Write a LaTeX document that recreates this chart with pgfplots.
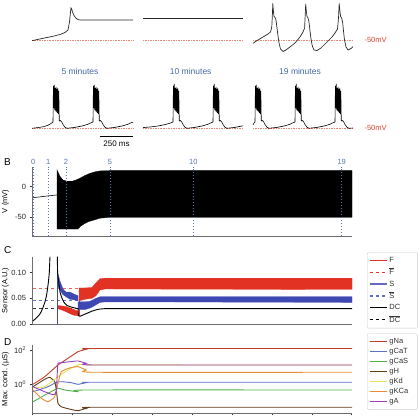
\documentclass[border=0pt]{standalone}
\usepackage{pgfplots}
\pgfplotsset{compat=1.18}
\usepackage{fontspec}
\setmainfont{Liberation Sans}
\definecolor{trace}{RGB}{40,40,40}
\definecolor{refred}{RGB}{238,135,120}
\definecolor{mvred}{RGB}{214,72,52}
\definecolor{titleblue}{RGB}{70,105,165}
\definecolor{dotblue}{RGB}{85,120,180}
\definecolor{Fred}{RGB}{226,50,36}
\definecolor{Sblue}{RGB}{62,72,178}
\definecolor{axgray}{RGB}{110,110,110}
\definecolor{cNa}{RGB}{192,62,45}
\definecolor{cCaT}{RGB}{92,112,200}
\definecolor{cCaS}{RGB}{78,176,72}
\definecolor{cH}{RGB}{96,60,26}
\definecolor{cKd}{RGB}{232,226,85}
\definecolor{cKCa}{RGB}{236,140,52}
\definecolor{cA}{RGB}{152,62,190}
\newcommand{\legtxt}[1]{\makebox[24pt][l]{\rule[-1.8pt]{0pt}{7.4pt}#1}}
\pgfplotsset{
  panel/.style={scale only axis, anchor=south west, xmin=32, xmax=352,
    axis x line*=bottom, axis y line*=left,
    axis line style={-, draw=axgray, line width=0.6pt},
    tick align=outside, major tick length=2.5pt, minor tick length=0pt,
    tick style={draw=black!80, line width=0.5pt},
    tick label style={font=\fontsize{7.5}{8}\selectfont, text=black!85},
    ylabel style={font=\fontsize{7.5}{8}\selectfont, at={(axis description cs:-0.083,0.5)}, anchor=center},
    legend style={draw=gray!40, rounded corners=1pt, font=\fontsize{7.5}{8}\selectfont, inner sep=2pt,
      anchor=north west, row sep=0pt, text=black!80},
    legend cell align=left,
    legend image post style={line width=1.1pt},
  }
}
\begin{document}
\begin{tikzpicture}
\useasboundingbox (0pt,0pt) rectangle (420pt,420pt);
% ---------------- Panel A ----------------
\begin{axis}[at={(0pt,270pt)},anchor=south west,scale only axis,width=420pt,height=150pt,
  xmin=0,xmax=420,ymin=0,ymax=150,y dir=reverse,hide axis,clip=false]
\addplot[refred, densely dotted, line width=0.65pt] coordinates {(32,40)(133,40)};
\addplot[refred, densely dotted, line width=0.65pt] coordinates {(143,40)(243,40)};
\addplot[refred, densely dotted, line width=0.65pt] coordinates {(253,40)(353,40)};
\addplot[refred, densely dotted, line width=0.65pt] coordinates {(32,128.3)(133,128.3)};
\addplot[refred, densely dotted, line width=0.65pt] coordinates {(143,128.3)(243,128.3)};
\addplot[refred, densely dotted, line width=0.65pt] coordinates {(253,128.3)(353,128.3)};
\addplot[trace, line width=0.7pt] coordinates {(32,40.7)(43,38.3)(52,36.5)(60,34.5)(65,32.5)(68,30)(69.5,22)(70.5,12)(71,8)(71.7,9)(72.5,12)(74,15.5)(76,18.3)(78,19.5)(80,20)(133,20)};
\addplot[trace, line width=0.7pt] coordinates {(143,18.3)(243,18.3)};
\addplot[trace, line width=0.7pt] coordinates {(253,43.3)(258,40)(263,37)(268,34)(270.5,32)(271.8,27)(272.4,14)(272.8,3.5)(273.3,10)(274,16.5)(275,17.5)(276,20)(277,28)(278,36)(279,43)(280.5,49)(283,51.5)(286,50)(290,47)(295,43)(300,37)(303,32)(304.6,28)(305.2,15)(305.7,4)(306.2,10)(307,16.5)(308,18)(309,22)(310,31)(311,39)(312.3,46)(314,50)(317,50.5)(321,48)(327,42)(332,37)(335,33)(337.5,29)(338.5,18)(339.2,3.5)(339.8,10)(340.6,16.5)(341.6,18)(342.6,22)(343.5,31)(344.5,40)(346,47)(348,50)(351,48.5)(353,46.7)};
% second row
\addplot[black, line width=0.6pt] coordinates {(32,128.3)(38,127.6)(44,126.6)(48,125.2)(51,123.5)
 (53,122)(53.4,86)(53.9,108)(54.3,85)(54.8,110)(55.2,88)(55.7,111)(56.1,87)(56.6,112)(57,89)(57.5,113)(57.9,88)(58.4,114)(58.8,91)(59.3,121)
 (60.3,120.5)(61.5,121.5)(63,124.5)(65,127.3)(67,128.3)(75,127.4)(83,125.8)(88,124.2)(91,122.8)
 (93,122)(93.4,86)(93.9,108)(94.3,85)(94.8,110)(95.2,88)(95.7,111)(96.1,87)(96.6,112)(97,89)(97.5,113)(97.9,88)(98.4,114)(98.8,91)(99.3,121)
 (100.3,120.5)(101.5,121.5)(103,124.5)(105,127.3)(107,128.3)(115,127.4)(123,125.8)(128,124.2)(131,122.8)(133,122.2)};
\addplot[black, line width=0.6pt] coordinates {(143,127.6)(150,127)(158,126)(165,124.6)(170,123.2)
 (173,122)(173.4,86)(173.9,108)(174.3,84)(174.8,110)(175.2,88)(175.7,111)(176.1,87)(176.6,112)(177,89)(177.5,113)(177.9,88)(178.4,114)(178.8,91)(179.3,121)
 (180.3,120.5)(181.5,121.5)(183,124.5)(185,127.3)(187,128.3)(195,127.4)(203,125.8)(208,124.2)(211,122.8)
 (213,122)(213.4,86)(213.9,108)(214.3,84)(214.8,110)(215.2,88)(215.7,111)(216.1,87)(216.6,112)(217,89)(217.5,113)(217.9,88)(218.4,114)(218.8,91)(219.3,121)
 (220.3,120.5)(221.5,121.5)(223,124.5)(225,127.3)(227,128.3)(235,127.4)(243,125.8)};
\addplot[black, line width=0.6pt] coordinates {(253,125)(254,123)
 (255,122)(255.4,86)(255.9,108)(256.3,85)(256.8,110)(257.2,88)(257.7,111)(258.1,87)(258.6,112)(259,89)(259.5,113)(259.9,88)(260.4,114)(260.8,91)(261.3,121)
 (262.3,120.5)(263.5,121.5)(265,124.5)(267,127.3)(269,128.3)(277,127.4)(285,125.8)(290,124.2)(293,122.8)
 (295,122)(295.4,86)(295.9,108)(296.3,84)(296.8,110)(297.2,88)(297.7,111)(298.1,87)(298.6,112)(299,89)(299.5,113)(299.9,88)(300.4,114)(300.8,91)(301.3,121)
 (302.3,120.5)(303.5,121.5)(305,124.5)(307,127.3)(309,128.3)(317,127.4)(325,125.8)(330,124.2)(333,122.8)
 (335,122)(335.4,86)(335.9,108)(336.3,84)(336.8,110)(337.2,88)(337.7,111)(338.1,87)(338.6,112)(339,89)(339.5,113)(339.9,88)(340.4,114)(340.8,91)(341.3,121)
 (342.3,120.5)(343.5,121.5)(345,124.5)(347,127.3)(349,128.3)(353,128)};
% scale bar
\addplot[black, line width=0.8pt] coordinates {(100,136.7)(133,136.7)};
\node[font=\fontsize{8}{9}\selectfont] at (axis cs:116.5,143.8) {250 ms};
\node[text=mvred, anchor=west, font=\fontsize{7.5}{9}\selectfont] at (axis cs:361,39.5) {-50mV};
\node[text=mvred, anchor=west, font=\fontsize{7.5}{9}\selectfont] at (axis cs:361,128) {-50mV};
\node[text=titleblue, font=\fontsize{8.5}{10}\selectfont] at (axis cs:80,71) {5 minutes};
\node[text=titleblue, font=\fontsize{8.5}{10}\selectfont] at (axis cs:190.7,71) {10 minutes};
\node[text=titleblue, font=\fontsize{8.5}{10}\selectfont] at (axis cs:300,71) {19 minutes};
\end{axis}
% ---------------- Panel B ----------------
\node[anchor=west, font=\fontsize{10}{11}\selectfont] at (0.5pt,257.7pt) {B};
\begin{axis}[panel, at={(32pt,184pt)}, width=320pt, height=69.3pt,
  ymin=-81.4, ymax=33, xtick=\empty, ytick={-50,0}, yticklabels={-50,0},
  ylabel={V (mV)}, clip=false]
\addplot[trace, line width=0.7pt] coordinates {(33,-18.2)(40,-16.8)(48,-15.2)(57,-13.7)};
\addplot[black, fill=black, line width=0.3pt] coordinates {(57,27.5)(58,24)(60,17)(63,11)(67,9)(72,9)(76,11)(80,14)(85,18.5)(90,22)(95,24.5)(100,26)(110,26.5)(352,26.5)
 (352,-50.5)(110,-50.5)(100,-52)(95,-54.5)(88,-58)(83,-62.5)(80,-66)(78,-70)(57,-70)} -- cycle;
\addplot[dotblue, dotted, line width=1pt] coordinates {(33.3,-81.4)(33.3,33)};
\addplot[dotblue, dotted, line width=1pt] coordinates {(48.3,-81.4)(48.3,33)};
\addplot[dotblue, dotted, line width=1pt] coordinates {(66,-81.4)(66,33)};
\addplot[dotblue, dotted, line width=1pt] coordinates {(110,-81.4)(110,33)};
\addplot[dotblue, dotted, line width=1pt] coordinates {(193.3,-81.4)(193.3,33)};
\addplot[dotblue, dotted, line width=1pt] coordinates {(341.7,-81.4)(341.7,33)};
\node[text=dotblue, font=\fontsize{7.5}{8}\selectfont] at (axis cs:33.3,40.3) {0};
\node[text=dotblue, font=\fontsize{7.5}{8}\selectfont] at (axis cs:48.3,40.3) {1};
\node[text=dotblue, font=\fontsize{7.5}{8}\selectfont] at (axis cs:66,40.3) {2};
\node[text=dotblue, font=\fontsize{7.5}{8}\selectfont] at (axis cs:110,40.3) {5};
\node[text=dotblue, font=\fontsize{7.5}{8}\selectfont] at (axis cs:193.3,40.3) {10};
\node[text=dotblue, font=\fontsize{7.5}{8}\selectfont] at (axis cs:341.7,40.3) {19};
\end{axis}
% ---------------- Panel C ----------------
\node[anchor=west, font=\fontsize{10}{11}\selectfont] at (0.5pt,170pt) {C};
\begin{axis}[panel, at={(32pt,96pt)}, width=320pt, height=67.3pt,
  ymin=0, ymax=0.1307, xtick=\empty, ytick={0,0.05,0.1}, yticklabels={0.00,0.05,0.10},
  ylabel={Sensor (A.U.)},
  legend style={at={(axis description cs:1.047,1.062)}}]
\addplot[forget plot, Fred!75!white, dashed, line width=0.8pt] coordinates {(33,0.07)(81,0.07)};
\addplot[forget plot, Sblue!75!white, dashed, line width=0.8pt] coordinates {(33,0.045)(80,0.045)};
\addplot[forget plot, black!80, dashed, line width=0.8pt] coordinates {(33,0.03)(79,0.03)};
% F
\addplot[forget plot, Fred, fill=Fred, line width=0.3pt] coordinates {(57.5,0.036)(62,0.035)(66,0.034)(70,0.031)(74,0.028)(78,0.025)(78,0.016)(74,0.017)(70,0.020)(66,0.024)(62,0.027)(57.5,0.030)} -- cycle;
\addplot[forget plot, Fred, fill=Fred, line width=0.3pt] coordinates {(79,0.070)(85,0.070)(92,0.071)(96,0.080)(100,0.088)(105,0.089)(352,0.089)(352,0.067)(105,0.068)(100,0.066)(96,0.055)(92,0.050)(85,0.048)(79,0.045)} -- cycle;
\addplot[forget plot, Fred, line width=0.8pt] coordinates {(79,0.016)(79,0.070)};
% S
\addplot[forget plot, Sblue, line width=0.8pt] coordinates {(33,0)(57.3,0)(57.3,0.10)};
\addplot[forget plot, Sblue, fill=Sblue, line width=0.3pt] coordinates {(57.5,0.10)(60,0.083)(63,0.068)(66,0.062)(70,0.062)(74,0.058)(78,0.055)(78,0.045)(74,0.047)(70,0.048)(66,0.053)(63,0.057)(60,0.066)(57.5,0.075)} -- cycle;
\addplot[forget plot, Sblue, fill=Sblue, line width=0.3pt] coordinates {(78,0.043)(85,0.043)(90,0.044)(95,0.049)(100,0.053)(106,0.053)(352,0.053)(352,0.042)(106,0.043)(100,0.042)(95,0.036)(90,0.031)(85,0.028)(78,0.028)} -- cycle;
% DC
\addplot[forget plot, black, line width=0.9pt] coordinates {(33,0.006)(36,0.011)(39,0.017)(41,0.023)(43,0.032)(45,0.043)(46.5,0.055)(47.5,0.068)(48.5,0.083)(49.3,0.10)(50,0.1307)};
\addplot[forget plot, black, line width=0.9pt] coordinates {(57.3,0.1307)(57.6,0.10)(58.3,0.088)(60,0.062)(62,0.050)(64,0.042)(67,0.036)(71,0.033)(75,0.031)(78,0.030)(78.5,0.016)(80,0.015)(86,0.020)(92,0.025)(97,0.028)(100,0.029)(106,0.030)(352,0.030)};
\addlegendimage{Fred}\addlegendentry{\legtxt{F}}
\addlegendimage{Fred, dashed}\addlegendentry{\legtxt{$\overline{\hbox{F}}$}}
\addlegendimage{Sblue!80!white}\addlegendentry{\legtxt{S}}
\addlegendimage{Sblue!80!white, dashed}\addlegendentry{\legtxt{$\overline{\hbox{S}}$}}
\addlegendimage{black}\addlegendentry{\legtxt{DC}}
\addlegendimage{black, dashed}\addlegendentry{\legtxt{$\overline{\hbox{DC}}$}}
\end{axis}
% ---------------- Panel D ----------------
\node[anchor=west, font=\fontsize{10}{11}\selectfont] at (0.5pt,78.3pt) {D};
\begin{axis}[panel, at={(32pt,7pt)}, width=320pt, height=68pt,
  ymode=log, ymin=0.0196, ymax=218, ytick={1,100}, yticklabels={10\textsuperscript{0},10\textsuperscript{2}},
  xtick={32.5,72.4,112.3,152.2,192.1,232,271.9,311.8,351.7}, xticklabels={},
  ylabel={Max. cond. (μS)},
  legend style={at={(axis description cs:1.047,1.169)}, row sep=-1pt}]
\addplot[cNa, line width=0.9pt, smooth, tension=0.3] coordinates {(33,1.0)(44.7,2.83)(58,14.1)(68,35.3)(78,87)(86.3,121)(94.7,135)(352,135)};
\addlegendentry{\legtxt{gNa}}
\addplot[cCaT, line width=0.9pt, smooth, tension=0.3] coordinates {(33,0.36)(48,0.72)(56.3,1.32)(61.3,1.43)(71.3,1.25)(78,1.0)(86.3,1.25)(94.7,1.32)(352,1.32)};
\addlegendentry{\legtxt{gCaT}}
\addplot[cCaS, line width=0.9pt, smooth, tension=0.3] coordinates {(33,0.092)(48,0.29)(58,0.578)(64.7,0.458)(78,0.363)(86.3,0.458)(352,0.458)};
\addlegendentry{\legtxt{gCaS}}
\addplot[cH, line width=0.9pt, smooth, tension=0.3] coordinates {(33,0.72)(44.7,1.98)(49.7,2.61)(54.7,1.43)(56.3,0.46)(58,0.074)(61.3,0.046)(70,0.033)(78,0.027)(86.3,0.037)(94.7,0.043)(352,0.043)};
\addlegendentry{\legtxt{gH}}
\addplot[cKd, line width=0.9pt, smooth, tension=0.3] coordinates {(33,0.60)(44.7,0.72)(58,2.83)(68,7.1)(78,14.1)(84.7,16.2)(94.7,14.3)(352,14.1)};
\addlegendentry{\legtxt{gKd}}
\addplot[cKCa, line width=0.9pt, smooth, tension=0.3] coordinates {(33,0.46)(41.3,0.147)(48,0.092)(54.7,0.183)(58,1.15)(61.3,5.6)(70,9.5)(78,11.2)(86.3,7.1)(94.7,5.2)(352,5.2)};
\addlegendentry{\legtxt{gKCa}}
\addplot[cA, line width=0.9pt, smooth, tension=0.3] coordinates {(33,0.72)(44.7,0.36)(52,0.25)(55,0.26)(56.5,0.5)(57.3,5)(58,17.8)(61.3,19.3)(70,22)(78,24.4)(86.3,17.8)(94.7,14.1)(352,14.1)};
\addlegendentry{\legtxt{gA}}
\end{axis}
\end{tikzpicture}
\end{document}
